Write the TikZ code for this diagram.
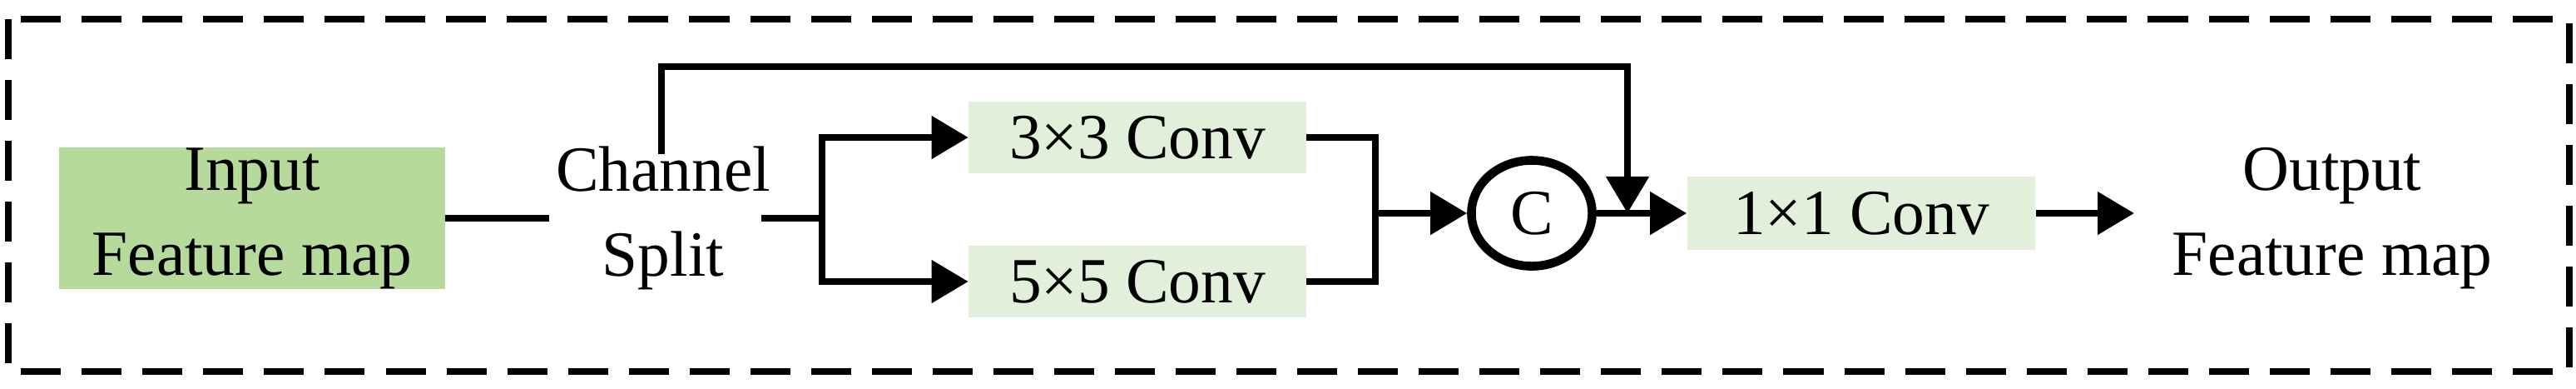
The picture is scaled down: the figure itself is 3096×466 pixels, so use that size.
\documentclass[tikz,border=0pt]{standalone}
\usepackage{fontspec}
\setmainfont{Liberation Serif}
\usetikzlibrary{arrows.meta,shapes.geometric}
\begin{document}
\begin{tikzpicture}[x=0.01cm,y=-0.01cm,
  ln/.style={line width=2.3pt},
  ar/.style={ln,-{Triangle[length=0.44cm,width=0.5cm]}},
  box/.style={inner sep=0pt,font=\fontsize{22}{29}\selectfont,align=center},
  txt/.style={font=\fontsize{22}{29}\selectfont,align=center}]
\useasboundingbox (0,0) rectangle (3096,466);
\draw[ln,dash pattern=on 0.48cm off 0.25cm] (10,23) rectangle (3088,446);
\node[box,fill={rgb,255:red,182;green,217;blue,156},minimum width=4.63cm,minimum height=1.57cm] (in) at (303,262) {Input\\Feature map};
\node[txt] (sp) at (797,262) {Channel\\Split};
\node[box,fill={rgb,255:red,226;green,239;blue,218},minimum width=4.05cm,minimum height=0.85cm] (c3) at (1367,165) {3×3 Conv};
\node[box,fill={rgb,255:red,226;green,239;blue,218},minimum width=4.05cm,minimum height=0.85cm] (c5) at (1367,338) {5×5 Conv};
\node[draw,line width=3pt,ellipse,minimum width=1.45cm,minimum height=1.27cm,inner sep=0pt,font=\fontsize{22}{24}\selectfont] (cc) at (1841,256) {C};
\node[box,fill={rgb,255:red,226;green,239;blue,218},minimum width=4.18cm,minimum height=0.88cm] (c1) at (2237,256) {1×1 Conv};
\node[txt] (out) at (2803,262) {Output\\Feature map};
\coordinate (b1) at (988,262);
\coordinate (b2) at (1653,256);
\draw[ln] (in.east |- 0,262) -- (660,262);
\draw[ln] (915,262) -- (b1);
\draw[ar] (b1) |- (c3.west);
\draw[ar] (b1) |- (c5.west);
\draw[ln] (c3.east) -| (b2);
\draw[ln] (c5.east) -| (b2);
\draw[ar] (b2) -- (cc.west);
\draw[ar] (cc.east) -- (c1.west);
\draw[ar] (795,185) -- (795,80) -- (1956,80) -- (1956,256);
\draw[ar] (c1.east) -- (2565,256);
\end{tikzpicture}
\end{document}
